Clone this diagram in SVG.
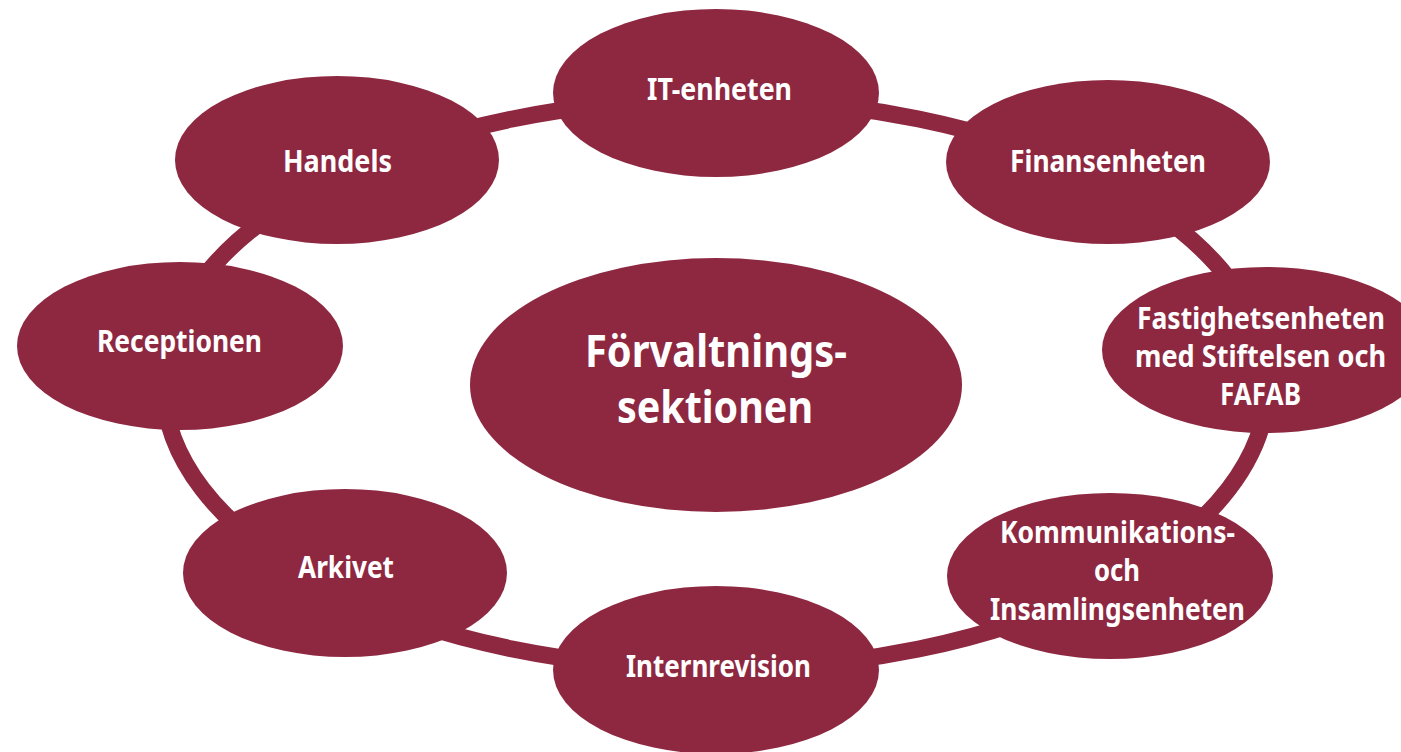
<svg xmlns="http://www.w3.org/2000/svg" width="1401" height="752" viewBox="0 0 1401 752">
  <style>
    .node { fill: #8E2841; }
    .ring { fill: none; stroke: #8E2841; stroke-width: 17; }
    .lbl { fill: #ffffff; font-family: "Noto Sans", "Open Sans", "Liberation Sans", sans-serif; font-weight: bold; font-size: 30px; }
    .big { font-size: 44px; }
  </style>
  <rect x="0" y="0" width="1401" height="752" fill="#ffffff"/>
  <g id="connectors">
    <ellipse class="ring" cx="715.5" cy="384" rx="552" ry="285"/>
  </g>
  <g id="center">
    <ellipse class="node" cx="716" cy="385" rx="246" ry="127"/>
    <text class="lbl big" x="585" y="367" textLength="262" lengthAdjust="spacingAndGlyphs">Förvaltnings-</text>
    <text class="lbl big" x="617" y="423" textLength="196" lengthAdjust="spacingAndGlyphs">sektionen</text>
  </g>
  <g id="it-enheten">
    <ellipse class="node" cx="716" cy="93" rx="163" ry="84"/>
    <text class="lbl" x="647" y="100" textLength="145" lengthAdjust="spacingAndGlyphs">IT-enheten</text>
  </g>
  <g id="finansenheten">
    <ellipse class="node" cx="1108" cy="162" rx="162" ry="82"/>
    <text class="lbl" x="1010" y="172" textLength="196" lengthAdjust="spacingAndGlyphs">Finansenheten</text>
  </g>
  <g id="fastighetsenheten">
    <ellipse class="node" cx="1266" cy="350" rx="164" ry="83"/>
    <text class="lbl" x="1137" y="329" textLength="248" lengthAdjust="spacingAndGlyphs">Fastighetsenheten</text>
    <text class="lbl" x="1135" y="367" textLength="251" lengthAdjust="spacingAndGlyphs">med Stiftelsen och</text>
    <text class="lbl" x="1220" y="405" textLength="81" lengthAdjust="spacingAndGlyphs">FAFAB</text>
  </g>
  <g id="kommunikation">
    <ellipse class="node" cx="1110" cy="576" rx="163" ry="83"/>
    <text class="lbl" x="1000" y="543" textLength="235" lengthAdjust="spacingAndGlyphs">Kommunikations-</text>
    <text class="lbl" x="1094" y="581" textLength="46" lengthAdjust="spacingAndGlyphs">och</text>
    <text class="lbl" x="990" y="620" textLength="255" lengthAdjust="spacingAndGlyphs">Insamlingsenheten</text>
  </g>
  <g id="internrevision">
    <ellipse class="node" cx="716" cy="670" rx="163" ry="84"/>
    <text class="lbl" x="626" y="677" textLength="185" lengthAdjust="spacingAndGlyphs">Internrevision</text>
  </g>
  <g id="arkivet">
    <ellipse class="node" cx="345" cy="573" rx="162" ry="84"/>
    <text class="lbl" x="298" y="578" textLength="96" lengthAdjust="spacingAndGlyphs">Arkivet</text>
  </g>
  <g id="receptionen">
    <ellipse class="node" cx="180" cy="346" rx="163" ry="84"/>
    <text class="lbl" x="97" y="352" textLength="165" lengthAdjust="spacingAndGlyphs">Receptionen</text>
  </g>
  <g id="handels">
    <ellipse class="node" cx="337" cy="160" rx="162" ry="84"/>
    <text class="lbl" x="283" y="172" textLength="109" lengthAdjust="spacingAndGlyphs">Handels</text>
  </g>
</svg>
